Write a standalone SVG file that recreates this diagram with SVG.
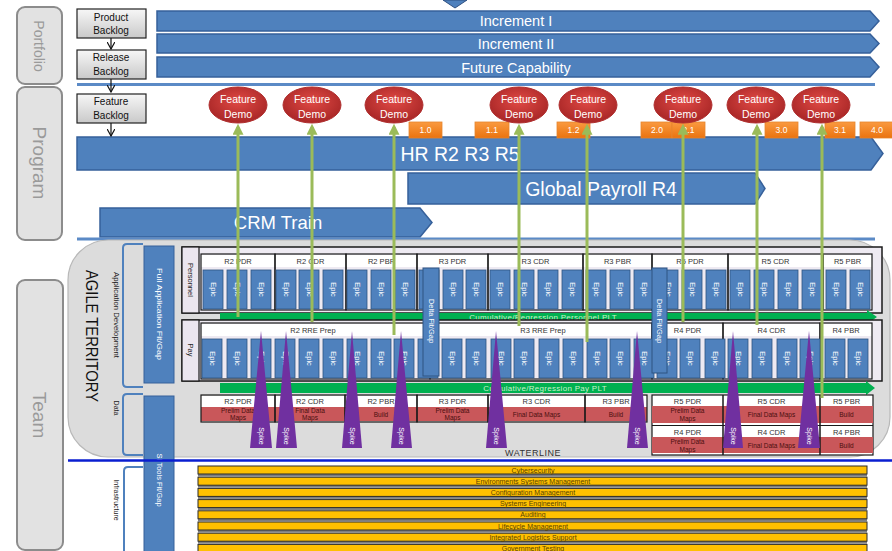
<svg xmlns="http://www.w3.org/2000/svg" xmlns:xlink="http://www.w3.org/1999/xlink" width="892" height="551" viewBox="0 0 892 551">
  <defs>
    <style>
      text { font-family: "Liberation Sans", Arial, sans-serif; }
      .lane { fill: #e2e2e2; stroke: #8c8c8c; stroke-width: 2; }
      .lanetxt { fill: #9a9a9a; text-anchor: middle; dominant-baseline: central; }
      .backlog { fill: url(#gBack); stroke: #222; stroke-width: 1.2; }
      .btxt { font-size: 10px; fill: #111; text-anchor: middle; }
      .bar { fill: #4f81bd; stroke: #36609a; stroke-width: 1.5; }
      .bartxt { fill: #fff; text-anchor: middle; }
      .sep { stroke: #5b8ac6; stroke-width: 3; }
      .demo { fill: url(#gDemo); stroke: #b03030; stroke-width: 1; }
      .demotxt { font-size: 10.5px; fill: #fff; text-anchor: middle; dominant-baseline: central; }
      .tag { fill: url(#gTag); stroke: #e6862e; stroke-width: 0.8; }
      .tagtxt { font-size: 8.5px; fill: #fff; text-anchor: middle; dominant-baseline: central; }
      .green { stroke: #9bbb59; stroke-width: 3; fill: none; marker-end: url(#upHead); }
      .tile { fill: #4f81bd; stroke: #2f5582; stroke-width: 0.8; }
      .tiletxt { font-size: 7.5px; fill: #fff; text-anchor: middle; dominant-baseline: central; }
      .row { fill: #eeeaf2; stroke: #1a1a1a; stroke-width: 1.5; }
      .rowlbl { fill: #ebe6ef; stroke: #1a1a1a; stroke-width: 1.2; }
      .rowtxt { font-size: 7.5px; fill: #222; text-anchor: middle; dominant-baseline: central; }
      .blk { fill: none; stroke: #1a1a1a; stroke-width: 1.2; }
      .hdr { fill: #fff; }
      .hdrtxt { font-size: 7.5px; fill: #333; text-anchor: middle; dominant-baseline: central; }
      .plt { fill: #00b050; }
      .plttxt { font-size: 8px; fill: #c9f2c9; text-anchor: middle; dominant-baseline: central; letter-spacing: 0.3px; }
      .delta { fill: #4f81bd; stroke: #2f5582; stroke-width: 1; }
      .vtxt { font-size: 7.5px; fill: #fff; text-anchor: middle; dominant-baseline: central; }
      .red { fill: #c9575a; }
      .redtxt { font-size: 6.5px; fill: #4a0f0f; text-anchor: middle; dominant-baseline: central; }
      .spike { fill: #7030a0; }
      .spiketxt { font-size: 7px; fill: #fff; text-anchor: middle; dominant-baseline: central; }
      .brk { fill: none; stroke: #4f81bd; stroke-width: 2; }
      .side { font-size: 7px; fill: #222; text-anchor: middle; dominant-baseline: central; }
      .infra { fill: #ffc000; stroke: #2a2a2a; stroke-width: 1; }
      .infshadow { fill: #7f7f7f; }
      .inftxt { font-size: 7px; fill: #5a4300; text-anchor: middle; dominant-baseline: central; }
    </style>
    <linearGradient id="gBack" x1="0" y1="0" x2="0" y2="1">
      <stop offset="0" stop-color="#f7f7f7"/>
      <stop offset="1" stop-color="#c9c9c9"/>
    </linearGradient>
    <radialGradient id="gDemo" cx="0.5" cy="0.4" r="0.6">
      <stop offset="0" stop-color="#e04a45"/>
      <stop offset="1" stop-color="#a82626"/>
    </radialGradient>
    <linearGradient id="gTag" x1="0" y1="0" x2="0" y2="1">
      <stop offset="0" stop-color="#fa9a40"/>
      <stop offset="1" stop-color="#ea730f"/>
    </linearGradient>
    <marker id="upHead" viewBox="0 0 10 10" refX="7" refY="5" markerWidth="11" markerHeight="11" markerUnits="userSpaceOnUse" orient="auto">
      <path d="M0,0 L10,5 L0,10 Z" fill="#9bbb59"/>
    </marker>
    <marker id="vHead" viewBox="0 0 10 10" refX="9" refY="5" markerWidth="8" markerHeight="8" markerUnits="userSpaceOnUse" orient="auto">
      <path d="M0,0 L9,5 L0,10" fill="none" stroke="#111" stroke-width="1.5"/>
    </marker>
    <g id="epic">
      <rect class="tile" x="0" y="0" width="20" height="39"/>
      <text class="tiletxt" transform="translate(10,19.5) rotate(90)">Epic</text>
    </g>
  </defs>

  <rect width="892" height="551" fill="#fff"/>

  <!-- swimlane labels -->
  <g id="lane-portfolio">
    <rect class="lane" x="17" y="7" width="45" height="77" rx="8"/>
    <text class="lanetxt" font-size="14" transform="translate(39,46) rotate(90)">Portfolio</text>
  </g>
  <g id="lane-program">
    <rect class="lane" x="17" y="87" width="45" height="153" rx="8"/>
    <text class="lanetxt" font-size="19" transform="translate(39,163) rotate(90)">Program</text>
  </g>
  <g id="lane-team">
    <rect class="lane" x="17" y="280" width="46" height="270" rx="8"/>
    <text class="lanetxt" font-size="19" transform="translate(39,415) rotate(90)">Team</text>
  </g>

  <!-- top marker -->
  <polygon points="443,0 467,0 455,8" fill="#4f81bd" stroke="#2f5080" stroke-width="1"/>

  <!-- backlogs -->
  <g id="product-backlog">
    <rect class="backlog" x="77" y="9" width="69" height="29"/>
    <text class="btxt" x="111" y="21">Product</text>
    <text class="btxt" x="111" y="34">Backlog</text>
  </g>
  <g id="release-backlog">
    <rect class="backlog" x="77" y="50" width="69" height="29"/>
    <text class="btxt" x="111" y="61">Release</text>
    <text class="btxt" x="111" y="75">Backlog</text>
  </g>
  <g id="feature-backlog">
    <rect class="backlog" x="77" y="94" width="69" height="29"/>
    <text class="btxt" x="111" y="105">Feature</text>
    <text class="btxt" x="111" y="119">Backlog</text>
  </g>

  <!-- portfolio increments -->
  <g id="increment-1">
    <path class="bar" d="M157,11 H870 L879,21 L870,31 H157 Z"/>
    <text class="bartxt" font-size="14.5" x="516" y="26">Increment I</text>
  </g>
  <g id="increment-2">
    <path class="bar" d="M157,34 H870 L879,43.5 L870,53 H157 Z"/>
    <text class="bartxt" font-size="14.5" x="516" y="49">Increment II</text>
  </g>
  <g id="future-capability">
    <path class="bar" d="M157,57 H870 L879,67 L870,77 H157 Z"/>
    <text class="bartxt" font-size="14.5" x="516" y="72.5">Future Capability</text>
  </g>

  <line class="sep" x1="77" y1="84.5" x2="875" y2="84.5"/>

  <!-- program trains -->
  <g id="hr-train">
    <path class="bar" d="M77,137 H871 L883,153.5 L871,170 H77 Z"/>
    <text class="bartxt" font-size="19.5" x="460" y="161">HR R2 R3 R5</text>
  </g>
  <g id="payroll-train">
    <path class="bar" d="M408,173 H755 L765,188.5 L755,204 H408 Z"/>
    <text class="bartxt" font-size="19.5" x="601" y="195.5">Global Payroll R4</text>
  </g>
  <g id="crm-train">
    <path class="bar" d="M100,208 H420 L432,222.5 L420,237 H100 Z"/>
    <text class="bartxt" font-size="18.5" x="278" y="229">CRM Train</text>
  </g>

  <line class="sep" x1="77" y1="239" x2="875" y2="239"/>

  <!-- release tags -->
  <g id="tags">
    <rect class="tag" x="409" y="122" width="33" height="16"/><text class="tagtxt" x="425.5" y="130">1.0</text>
    <rect class="tag" x="475" y="122" width="34" height="16"/><text class="tagtxt" x="492" y="130">1.1</text>
    <rect class="tag" x="557" y="122" width="33" height="16"/><text class="tagtxt" x="573.5" y="130">1.2</text>
    <rect class="tag" x="641" y="122" width="31" height="16"/><text class="tagtxt" x="657" y="130">2.0</text>
    <rect class="tag" x="672" y="122" width="33" height="16"/><text class="tagtxt" x="688.5" y="130">2.1</text>
    <rect class="tag" x="765" y="122" width="33" height="16"/><text class="tagtxt" x="781.5" y="130">3.0</text>
    <rect class="tag" x="825" y="122" width="30" height="16"/><text class="tagtxt" x="840" y="130">3.1</text>
    <rect class="tag" x="860" y="122" width="34" height="16"/><text class="tagtxt" x="877" y="130">4.0</text>
  </g>

  <!-- feature demos -->
  <g id="demo-1"><ellipse class="demo" cx="238" cy="105" rx="29" ry="18"/><text class="demotxt" x="238" y="99">Feature</text><text class="demotxt" x="238" y="114">Demo</text></g>
  <g id="demo-2"><ellipse class="demo" cx="312" cy="105" rx="29" ry="18"/><text class="demotxt" x="312" y="99">Feature</text><text class="demotxt" x="312" y="114">Demo</text></g>
  <g id="demo-3"><ellipse class="demo" cx="394" cy="105" rx="29" ry="18"/><text class="demotxt" x="394" y="99">Feature</text><text class="demotxt" x="394" y="114">Demo</text></g>
  <g id="demo-4"><ellipse class="demo" cx="519" cy="105" rx="29" ry="18"/><text class="demotxt" x="519" y="99">Feature</text><text class="demotxt" x="519" y="114">Demo</text></g>
  <g id="demo-5"><ellipse class="demo" cx="588" cy="105" rx="29" ry="18"/><text class="demotxt" x="588" y="99">Feature</text><text class="demotxt" x="588" y="114">Demo</text></g>
  <g id="demo-6"><ellipse class="demo" cx="683" cy="105" rx="29" ry="18"/><text class="demotxt" x="683" y="99">Feature</text><text class="demotxt" x="683" y="114">Demo</text></g>
  <g id="demo-7"><ellipse class="demo" cx="756" cy="105" rx="29" ry="18"/><text class="demotxt" x="756" y="99">Feature</text><text class="demotxt" x="756" y="114">Demo</text></g>
  <g id="demo-8"><ellipse class="demo" cx="821" cy="105" rx="29" ry="18"/><text class="demotxt" x="821" y="99">Feature</text><text class="demotxt" x="821" y="114">Demo</text></g>

  <!-- agile territory -->
  <g id="agile-territory">
    <rect x="68" y="240" width="822" height="217" rx="40" fill="#dcdcdc" stroke="#b8b8b8" stroke-width="1.2"/>
    <text transform="translate(91,336) rotate(90)" font-size="17" fill="#111" text-anchor="middle" dominant-baseline="central" textLength="132" lengthAdjust="spacingAndGlyphs">AGILE TERRITORY</text>
  </g>

  <!-- team-level brackets -->
  <g id="app-dev">
    <path class="brk" d="M143,244 H127 Q123,244 123,248 V383 Q123,387 127,387 H143"/>
    <text class="side" transform="translate(116,315) rotate(90)" textLength="86" lengthAdjust="spacingAndGlyphs">Application Development</text>
  </g>
  <g id="data">
    <path class="brk" d="M143,394 H127 Q123,394 123,398 V451 Q123,455 127,455 H143"/>
    <text class="side" transform="translate(116,408) rotate(90)">Data</text>
  </g>
  <g id="infrastructure">
    <path d="M143,467 H127 Q124,467 124,471 V551 H143 Z" fill="#fff"/>
    <path class="brk" d="M143,467 H128 Q124,467 124,471 V551"/>
    <text class="side" transform="translate(116,500) rotate(90)">Infrastructure</text>
  </g>
  <g id="full-app-fitgap">
    <rect x="144" y="246" width="30" height="137" fill="#4f81bd" stroke="#36609a"/>
    <text class="vtxt" transform="translate(159,314) rotate(90)" textLength="92" lengthAdjust="spacingAndGlyphs">Full Application Fit/Gap</text>
  </g>
  <g id="si-tools-fitgap">
    <rect x="144" y="396" width="30" height="156" fill="#4f81bd" stroke="#36609a"/>
    <text class="vtxt" transform="translate(159,480) rotate(90)">SI Tools Fit/Gap</text>
  </g>

  <!-- personnel row -->
  <g id="personnel">
    <rect class="row" x="182" y="247" width="700" height="66"/>
    <rect class="rowlbl" x="182" y="247" width="17" height="66"/>
    <text class="rowtxt" transform="translate(190.5,280) rotate(90)">Personnel</text>
    <g id="personnel-headers">
      <rect class="hdr" x="201" y="255" width="671" height="12"/>
      <rect class="blk" x="201" y="254" width="74" height="56"/><text class="hdrtxt" x="238" y="261">R2 PDR</text>
      <rect class="blk" x="275" y="254" width="71" height="56"/><text class="hdrtxt" x="310.5" y="261">R2 CDR</text>
      <rect class="blk" x="346" y="254" width="71" height="56"/><text class="hdrtxt" x="381.5" y="261">R2 PBR</text>
      <rect class="blk" x="417" y="254" width="71" height="56"/><text class="hdrtxt" x="452.5" y="261">R3 PDR</text>
      <rect class="blk" x="488" y="254" width="95" height="56"/><text class="hdrtxt" x="535.5" y="261">R3 CDR</text>
      <rect class="blk" x="583" y="254" width="69" height="56"/><text class="hdrtxt" x="617.5" y="261">R3 PBR</text>
      <rect class="blk" x="652" y="254" width="76" height="56"/><text class="hdrtxt" x="690" y="261">R5 PDR</text>
      <rect class="blk" x="728" y="254" width="95" height="56"/><text class="hdrtxt" x="775.5" y="261">R5 CDR</text>
      <rect class="blk" x="823" y="254" width="49" height="56"/><text class="hdrtxt" x="847.5" y="261">R5 PBR</text>
    </g>
    <g id="personnel-epics">
      <use href="#epic" x="203" y="270"/><use href="#epic" x="227" y="270"/><use href="#epic" x="251" y="270"/>
      <use href="#epic" x="276" y="270"/><use href="#epic" x="299" y="270"/><use href="#epic" x="323" y="270"/>
      <use href="#epic" x="347" y="270"/><use href="#epic" x="371" y="270"/><use href="#epic" x="395" y="270"/>
      <use href="#epic" x="419" y="270"/><use href="#epic" x="443" y="270"/><use href="#epic" x="466" y="270"/>
      <use href="#epic" x="490" y="270"/><use href="#epic" x="514" y="270"/><use href="#epic" x="538" y="270"/>
      <use href="#epic" x="562" y="270"/><use href="#epic" x="586" y="270"/><use href="#epic" x="610" y="270"/>
      <use href="#epic" x="634" y="270"/><use href="#epic" x="658" y="270"/><use href="#epic" x="682" y="270"/>
      <use href="#epic" x="706" y="270"/><use href="#epic" x="730" y="270"/><use href="#epic" x="754" y="270"/>
      <use href="#epic" x="778" y="270"/><use href="#epic" x="802" y="270"/><use href="#epic" x="826" y="270"/>
      <use href="#epic" x="850" y="270"/>
    </g>
  </g>

  <g id="personnel-plt">
    <path class="plt" d="M220,313 H867 V310 L877,317 L867,324 V321 H220 Z"/>
    <text class="plttxt" x="543" y="317.5">Cumulative/Regression Personnel PLT</text>
  </g>

  <!-- pay row -->
  <g id="pay">
    <rect class="row" x="182" y="320" width="700" height="61"/>
    <rect class="rowlbl" x="182" y="320" width="17" height="61"/>
    <text class="rowtxt" transform="translate(190.5,350) rotate(90)">Pay</text>
    <g id="pay-headers">
      <rect class="hdr" x="201" y="324" width="671" height="12"/>
      <rect class="blk" x="201" y="323" width="229" height="56"/><text class="hdrtxt" x="313" y="330">R2 RRE Prep</text>
      <rect class="blk" x="430" y="323" width="222" height="56"/><text class="hdrtxt" x="543" y="330">R3 RRE Prep</text>
      <rect class="blk" x="652" y="323" width="71" height="56"/><text class="hdrtxt" x="687.5" y="330">R4 PDR</text>
      <rect class="blk" x="723" y="323" width="97" height="56" stroke-width="2"/><text class="hdrtxt" x="771.5" y="330">R4 CDR</text>
      <rect class="blk" x="820" y="323" width="52" height="56"/><text class="hdrtxt" x="846" y="330">R4 PBR</text>
    </g>
    <g id="pay-epics">
      <use href="#epic" x="202" y="339"/><use href="#epic" x="227" y="339"/><use href="#epic" x="251" y="339"/>
      <use href="#epic" x="275" y="339"/><use href="#epic" x="299" y="339"/><use href="#epic" x="323" y="339"/>
      <use href="#epic" x="347" y="339"/><use href="#epic" x="371" y="339"/><use href="#epic" x="394" y="339"/>
      <use href="#epic" x="418" y="339"/><use href="#epic" x="442" y="339"/><use href="#epic" x="466" y="339"/>
      <use href="#epic" x="491" y="339"/><use href="#epic" x="514" y="339"/><use href="#epic" x="539" y="339"/>
      <use href="#epic" x="563" y="339"/><use href="#epic" x="587" y="339"/><use href="#epic" x="610" y="339"/>
      <use href="#epic" x="634" y="339"/><use href="#epic" x="657" y="339"/><use href="#epic" x="680" y="339"/>
      <use href="#epic" x="705" y="339"/><use href="#epic" x="728" y="339"/><use href="#epic" x="752" y="339"/>
      <use href="#epic" x="777" y="339"/><use href="#epic" x="800" y="339"/><use href="#epic" x="825" y="339"/>
      <use href="#epic" x="848" y="339"/>
    </g>
  </g>

  <g id="delta-fitgap-1">
    <rect class="delta" x="423" y="268" width="16" height="108"/>
    <text class="vtxt" transform="translate(431,321) rotate(90)">Delta Fit/Gap</text>
  </g>
  <g id="delta-fitgap-2">
    <rect class="delta" x="652" y="268" width="15" height="105"/>
    <text class="vtxt" transform="translate(659.5,321) rotate(90)">Delta Fit/Gap</text>
  </g>

  <g id="pay-plt">
    <path class="plt" d="M220,383 H866 V381 L875,388 L866,395 V393 H220 Z"/>
    <text class="plttxt" x="545" y="388.5">Cumulative/Regression Pay PLT</text>
  </g>

  <!-- data row -->
  <g id="data-releases-a">
    <rect x="201" y="396" width="446" height="11" fill="#fff"/>
    <rect class="red" x="201" y="407" width="446" height="14"/>
    <rect class="blk" x="201" y="395" width="74" height="27"/>
    <rect class="blk" x="275" y="395" width="70" height="27"/>
    <rect class="blk" x="345" y="395" width="72" height="27"/>
    <rect class="blk" x="417" y="395" width="71" height="27" stroke-width="2"/>
    <rect class="blk" x="488" y="395" width="97" height="27"/>
    <rect class="blk" x="585" y="395" width="62" height="27"/>
    <text class="hdrtxt" x="238" y="401.5">R2 PDR</text>
    <text class="redtxt" x="238" y="410.5">Prelim Data</text><text class="redtxt" x="238" y="417.5">Maps</text>
    <text class="hdrtxt" x="310" y="401.5">R2 CDR</text>
    <text class="redtxt" x="310" y="410.5">Final Data</text><text class="redtxt" x="310" y="417.5">Maps</text>
    <text class="hdrtxt" x="381" y="401.5">R2 PBR</text>
    <text class="redtxt" x="381" y="414">Build</text>
    <text class="hdrtxt" x="452.5" y="401.5">R3 PDR</text>
    <text class="redtxt" x="452.5" y="410.5">Prelim Data</text><text class="redtxt" x="452.5" y="417.5">Maps</text>
    <text class="hdrtxt" x="536.5" y="401.5">R3 CDR</text>
    <text class="redtxt" x="536.5" y="414">Final Data Maps</text>
    <text class="hdrtxt" x="616" y="401.5">R3 PBR</text>
    <text class="redtxt" x="616" y="414">Build</text>
  </g>
  <g id="data-releases-b">
    <rect x="652" y="395" width="221" height="60" fill="#fff" stroke="#1a1a1a" stroke-width="1.2"/>
    <rect class="red" x="652" y="406" width="221" height="17"/>
    <rect class="red" x="652" y="437" width="221" height="16"/>
    <line x1="652" y1="425.5" x2="873" y2="425.5" stroke="#1a1a1a" stroke-width="1.2"/>
    <line x1="723" y1="395" x2="723" y2="455" stroke="#1a1a1a" stroke-width="1.5"/>
    <line x1="820" y1="395" x2="820" y2="455" stroke="#1a1a1a" stroke-width="1.5"/>
    <text class="hdrtxt" x="687.5" y="401">R5 PDR</text>
    <text class="redtxt" x="687.5" y="410.5">Prelim Data</text><text class="redtxt" x="687.5" y="418.5">Maps</text>
    <text class="hdrtxt" x="771.5" y="401">R5 CDR</text>
    <text class="redtxt" x="771.5" y="414.5">Final Data Maps</text>
    <text class="hdrtxt" x="846.5" y="401">R5 PBR</text>
    <text class="redtxt" x="846.5" y="414.5">Build</text>
    <text class="hdrtxt" x="687.5" y="432">R4 PDR</text>
    <text class="redtxt" x="687.5" y="441">Prelim Data</text><text class="redtxt" x="687.5" y="449">Maps</text>
    <text class="hdrtxt" x="771.5" y="432">R4 CDR</text>
    <text class="redtxt" x="771.5" y="445">Final Data Maps</text>
    <text class="hdrtxt" x="846.5" y="432">R4 PBR</text>
    <text class="redtxt" x="846.5" y="445">Build</text>
  </g>

  <!-- connectors: demo arrows rising from the team work -->
  <g id="connectors">
    <line class="green" x1="238" y1="317" x2="238" y2="127"/>
    <line class="green" x1="312" y1="322" x2="312" y2="127"/>
    <line class="green" x1="394" y1="335" x2="394" y2="127"/>
    <line class="green" x1="519" y1="326" x2="519" y2="127"/>
    <line class="green" x1="587" y1="342" x2="587" y2="127"/>
    <line class="green" x1="683" y1="322" x2="683" y2="127"/>
    <line class="green" x1="757" y1="325" x2="757" y2="127"/>
    <line class="green" x1="822" y1="398" x2="822" y2="127"/>
  </g>

  <!-- spikes -->
  <g id="spikes">
    <g id="spike-1"><polygon class="spike" points="261,331 250,448 272,448"/><text class="spiketxt" transform="translate(261,436) rotate(90)">Spike</text></g>
    <g id="spike-2"><polygon class="spike" points="286,331 276,448 297,448"/><text class="spiketxt" transform="translate(286.5,436) rotate(90)">Spike</text></g>
    <g id="spike-3"><polygon class="spike" points="352,331 342,448 362,448"/><text class="spiketxt" transform="translate(352,436) rotate(90)">Spike</text></g>
    <g id="spike-4"><polygon class="spike" points="401,331 391,448 412,448"/><text class="spiketxt" transform="translate(401.5,436) rotate(90)">Spike</text></g>
    <g id="spike-5"><polygon class="spike" points="496,331 486,448 507,448"/><text class="spiketxt" transform="translate(496.5,436) rotate(90)">Spike</text></g>
    <g id="spike-6"><polygon class="spike" points="637,331 627,448 648,448"/><text class="spiketxt" transform="translate(637.5,436) rotate(90)">Spike</text></g>
    <g id="spike-7"><polygon class="spike" points="733,331 723,448 743,448"/><text class="spiketxt" transform="translate(733,436) rotate(90)">Spike</text></g>
    <g id="spike-8"><polygon class="spike" points="809,331 798,448 820,448"/><text class="spiketxt" transform="translate(809,436) rotate(90)">Spike</text></g>
  </g>

  <!-- waterline -->
  <g id="waterline">
    <text x="533" y="456" font-size="9" fill="#333" text-anchor="middle" letter-spacing="0.5">WATERLINE</text>
    <line x1="68" y1="460.5" x2="892" y2="460.5" stroke="#0a1ed0" stroke-width="2.5"/>
  </g>

  <!-- infrastructure services -->
  <g id="infra-services">
    <rect class="infshadow" x="198" y="468" width="669" height="8.5"/><rect class="infra" x="198" y="466" width="669" height="8"/><text class="inftxt" x="533" y="470">Cybersecurity</text>
    <rect class="infshadow" x="198" y="479.2" width="669" height="8.5"/><rect class="infra" x="198" y="477.2" width="669" height="8"/><text class="inftxt" x="533" y="481.2">Environments Systems Management</text>
    <rect class="infshadow" x="198" y="490.4" width="669" height="8.5"/><rect class="infra" x="198" y="488.4" width="669" height="8"/><text class="inftxt" x="533" y="492.4">Configuration Management</text>
    <rect class="infshadow" x="198" y="501.6" width="669" height="8.5"/><rect class="infra" x="198" y="499.6" width="669" height="8"/><text class="inftxt" x="533" y="503.6">Systems Engineering</text>
    <rect class="infshadow" x="198" y="512.8" width="669" height="8.5"/><rect class="infra" x="198" y="510.8" width="669" height="8"/><text class="inftxt" x="533" y="514.8">Auditing</text>
    <rect class="infshadow" x="198" y="524" width="669" height="8.5"/><rect class="infra" x="198" y="522" width="669" height="8"/><text class="inftxt" x="533" y="526">Lifecycle Management</text>
    <rect class="infshadow" x="198" y="535.2" width="669" height="8.5"/><rect class="infra" x="198" y="533.2" width="669" height="8"/><text class="inftxt" x="533" y="537.2">Integrated Logistics Support</text>
    <rect class="infra" x="198" y="544.4" width="669" height="8"/><text class="inftxt" x="533" y="548.4">Government Testing</text>
  </g>

  <!-- backlog flow -->
  <g id="backlog-flow">
    <line x1="111" y1="38" x2="111" y2="49" stroke="#111" stroke-width="1.2" marker-end="url(#vHead)"/>
    <line x1="111" y1="79" x2="111" y2="92" stroke="#111" stroke-width="1.2" marker-end="url(#vHead)"/>
    <line x1="111" y1="123" x2="111" y2="136" stroke="#111" stroke-width="1.2" marker-end="url(#vHead)"/>
  </g>
</svg>
